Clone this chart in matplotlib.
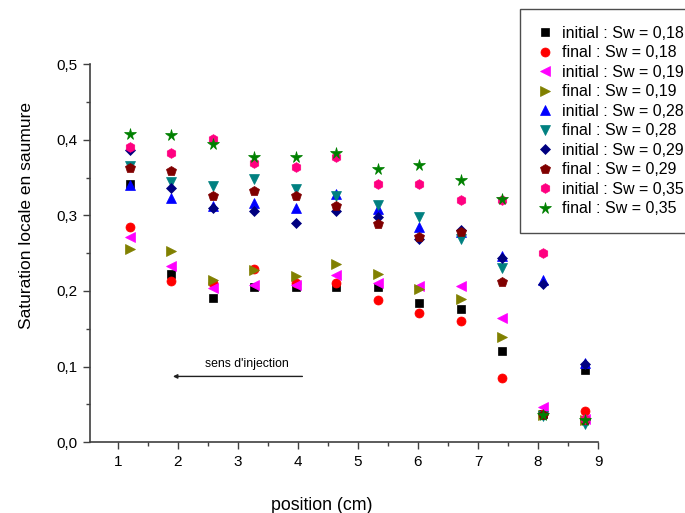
import matplotlib
matplotlib.use("Agg")
import matplotlib.pyplot as plt
from matplotlib.ticker import FuncFormatter, MultipleLocator

plt.rcParams['font.family'] = ['Liberation Sans', 'DejaVu Sans']

position = [1.2, 1.89, 2.58, 3.27, 3.96, 4.64, 5.34, 6.02, 6.72, 7.4, 8.08, 8.78]

init_018 = [0.342, 0.222, 0.191, 0.205, 0.205, 0.205, 0.205, 0.184, 0.176, 0.120, 0.037, 0.095]
final_018 = [0.284, 0.213, 0.210, 0.229, 0.210, 0.211, 0.188, 0.171, 0.160, 0.085, 0.037, 0.041]
init_019 = [0.272, 0.233, 0.204, 0.208, 0.208, 0.221, 0.211, 0.207, 0.207, 0.164, 0.047, 0.031]
final_019 = [0.256, 0.253, 0.215, 0.228, 0.220, 0.236, 0.223, 0.202, 0.189, 0.139, 0.036, 0.029]
init_028 = [0.340, 0.323, 0.312, 0.316, 0.310, 0.328, 0.309, 0.285, 0.278, 0.246, 0.214, 0.105]
final_028 = [0.365, 0.344, 0.339, 0.348, 0.335, 0.325, 0.314, 0.298, 0.269, 0.230, 0.035, 0.024]
init_029 = [0.386, 0.336, 0.310, 0.306, 0.290, 0.306, 0.298, 0.269, 0.280, 0.243, 0.209, 0.103]
final_029 = [0.362, 0.359, 0.325, 0.332, 0.325, 0.313, 0.289, 0.272, 0.278, 0.212, 0.036, 0.030]
init_035 = [0.390, 0.383, 0.401, 0.369, 0.364, 0.377, 0.341, 0.341, 0.320, 0.320, 0.250, 0.031]
final_035 = [0.407, 0.406, 0.394, 0.377, 0.377, 0.383, 0.361, 0.366, 0.347, 0.321, 0.036, 0.030]

series = [
    ("initial : Sw = 0,18", init_018, 's', '#000000'),
    ("final : Sw = 0,18", final_018, 'o', '#FF0000'),
    ("initial : Sw = 0,19", init_019, '<', '#FF00FF'),
    ("final : Sw = 0,19", final_019, '>', '#808000'),
    ("initial : Sw = 0,28", init_028, '^', '#0000FF'),
    ("final : Sw = 0,28", final_028, 'v', '#008080'),
    ("initial : Sw = 0,29", init_029, 'D', '#000080'),
    ("final : Sw = 0,29", final_029, 'p', '#800000'),
    ("initial : Sw = 0,35", init_035, 'h', '#FF0080'),
    ("final : Sw = 0,35", final_035, '*', '#008000'),
]
sizes = {'s': 6, 'o': 6.5, '<': 6.5, '>': 6.5, '^': 6.5, 'v': 6.5, 'D': 5.5, 'p': 7, 'h': 7, '*': 8.5}

fig = plt.figure(figsize=(6.85, 5.13), dpi=100)
ax = fig.add_axes([0.131, 0.138, 0.742, 0.737])

for label, vals, mk, col in series:
    ax.plot(position, vals, linestyle='none', marker=mk, color=col,
            markersize=sizes[mk], markeredgewidth=0.5, markeredgecolor=col, label=label)

ax.set_xlim(0.53, 9)
ax.set_ylim(0, 0.5)
ax.xaxis.set_minor_locator(MultipleLocator(0.5))
ax.yaxis.set_major_locator(MultipleLocator(0.1))
ax.yaxis.set_minor_locator(MultipleLocator(0.05))
ax.set_xticks([1, 2, 3, 4, 5, 6, 7, 8, 9])
ax.yaxis.set_major_formatter(FuncFormatter(lambda v, p: f"{v:.1f}".replace('.', ',')))

for s in ['top', 'right']:
    ax.spines[s].set_visible(False)
for s in ['left', 'bottom']:
    ax.spines[s].set_color('#404040')
    ax.spines[s].set_linewidth(1.2)
ax.tick_params(which='major', direction='out', length=5, width=1, color='#404040',
               labelsize=11, pad=4)
ax.tick_params(which='minor', direction='out', length=3, width=1, color='#404040')

ax.set_xlabel("position (cm)", fontsize=12.8)
ax.xaxis.set_label_coords(0.457, -0.145)
ax.set_ylabel("Saturation locale en saumure", fontsize=12.5)
ax.yaxis.set_label_coords(-0.11, 0.60)

ax.annotate("", xy=(1.87, 0.087), xytext=(4.12, 0.087),
            arrowprops=dict(arrowstyle='-|>', color='#202020', lw=1, mutation_scale=6))
ax.text(3.15, 0.104, "sens d'injection", fontsize=8.8, ha='center', va='center')

leg = fig.legend(loc='upper left', bbox_to_anchor=(0.759, 0.982), fontsize=11.5,
                 frameon=True, fancybox=False, handletextpad=0.5, labelspacing=0.28,
                 borderpad=1.05, handlelength=1.1, borderaxespad=0)
leg.get_frame().set_edgecolor('#202020')
leg.get_frame().set_linewidth(1)

fig.savefig("out.png", dpi=100)
